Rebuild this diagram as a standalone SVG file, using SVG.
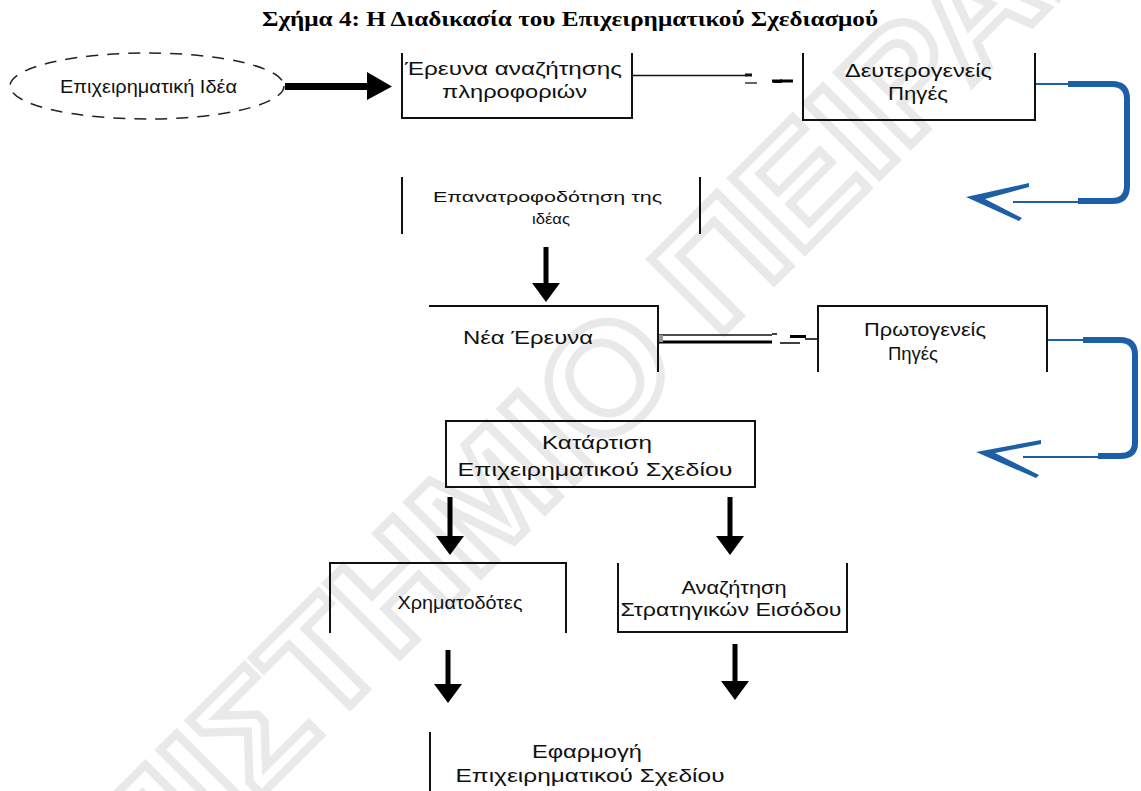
<svg xmlns="http://www.w3.org/2000/svg" width="1141" height="791" viewBox="0 0 1141 791">
<style>
.t{font-family:"Liberation Sans","Noto Sans",Arial,sans-serif;font-size:18px;fill:#111;text-anchor:middle}
.s{font-size:14px}
.box{fill:none;stroke:#111;stroke-width:2}
.ar{fill:#000}
.blue{fill:none;stroke:#1c5fa6;stroke-linecap:butt}
.bf{fill:#1c5fa6}
.wm{font-family:"Liberation Sans",Arial,sans-serif;font-weight:bold;font-size:150px;fill:none;stroke:#e9e9e9;stroke-width:8}
</style>
<rect width="1141" height="791" fill="#fff"/>
<g id="watermark">
<text class="wm" x="-173" y="1229" transform="rotate(-45 -173 1229)" textLength="1997" lengthAdjust="spacingAndGlyphs">ΠΑΝΕΠΙΣΤΗΜΙΟ ΠΕΙΡΑΙΩΣ</text>
</g>
<text x="570" y="26" font-family="'Liberation Serif','Times New Roman',serif" font-weight="bold" font-size="22" text-anchor="middle" textLength="616" lengthAdjust="spacingAndGlyphs" fill="#000">Σχήμα 4: Η Διαδικασία του Επιχειρηματικού Σχεδιασμού</text>
<g id="connectors">
<polygon class="ar" points="285,83 367,83 367,72 392,86.5 367,100 367,90 285,90"/>
<path d="M632,75.5 H747" stroke="#111" stroke-width="1.6"/>
<path d="M745,75 H752" stroke="#111" stroke-width="3"/>
<path d="M745,83 H757" stroke="#333" stroke-width="1.5"/>
<path d="M772,81 H793" stroke="#000" stroke-width="3"/>
<polygon points="772,83 782,79 782,83" fill="#000"/>
<path d="M658,335 H772" stroke="#111" stroke-width="1.6"/>
<path d="M658,342 H772" stroke="#000" stroke-width="3"/>
<rect x="658" y="335" width="5" height="7" fill="#999"/>
<path d="M772,334 H777 M780,343 H800 M805,339 H818" stroke="#000" stroke-width="1.6"/>
<path d="M790,336.5 H806" stroke="#000" stroke-width="3"/>
<path d="M1035,84 H1070 M1013,202 H1080" class="blue" stroke-width="2"/>
<path d="M1068,84 H1112 Q1127,84 1127,99 V186 Q1127,201 1112,201 H1078" class="blue" stroke-width="6"/>
<polygon class="bf" points="966,197 1029,183 1029,187 985,199 1022,218 1019,221"/>
<path d="M1047,340 H1085 M1023,457 H1100" class="blue" stroke-width="2"/>
<path d="M1083,340 H1120 Q1135,340 1135,355 V443 Q1135,456 1120,456 H1098" class="blue" stroke-width="6"/>
<polygon class="bf" points="976,452 1041,440 1041,444 995,453 1039,475 1036,478"/>
<polygon class="ar" points="543.5,247 548.5,247 548.5,283 560,283 546,302 532,283 543.5,283"/>
<polygon class="ar" points="447.5,497 452.5,497 452.5,536 464,536 450,555 436,536 447.5,536"/>
<polygon class="ar" points="727.5,497 732.5,497 732.5,536 744,536 730,555 716,536 727.5,536"/>
<polygon class="ar" points="445.5,650 450.5,650 450.5,684 462,684 448,703 434,684 445.5,684"/>
<polygon class="ar" points="732.5,644 737.5,644 737.5,681 749,681 735,700 721,681 732.5,681"/>
</g>
<g id="idea">
<ellipse cx="147" cy="86" rx="137" ry="33" fill="none" stroke="#222" stroke-width="1.5" stroke-dasharray="12 9"/>
<text class="t" x="148.5" y="93" font-size="16" textLength="177" lengthAdjust="spacingAndGlyphs">Επιχειρηματική Ιδέα</text>
</g>
<g id="research">
<path class="box" d="M402,53 V118 H632 V53"/>
<text class="t" x="513.5" y="75" textLength="217" lengthAdjust="spacingAndGlyphs">Έρευνα αναζήτησης</text>
<text class="t" x="514.5" y="98" textLength="145" lengthAdjust="spacingAndGlyphs">πληροφοριών</text>
</g>
<g id="secondary">
<path class="box" d="M803,53 V120 H1035 V53"/>
<text class="t" x="918.5" y="77" textLength="147" lengthAdjust="spacingAndGlyphs">Δευτερογενείς</text>
<text class="t" x="918" y="100" textLength="60" lengthAdjust="spacingAndGlyphs">Πηγές</text>
</g>
<g id="feedback">
<path class="box" d="M402,177 V234 M700,177 V234"/>
<text class="t s" x="547.5" y="202" textLength="229" lengthAdjust="spacingAndGlyphs">Επανατροφοδότηση της</text>
<text class="t s" x="551" y="224" textLength="38" lengthAdjust="spacingAndGlyphs">ιδέας</text>
</g>
<g id="new-research">
<path class="box" d="M429,306 H658 V372"/>
<text class="t" x="528" y="344" textLength="130" lengthAdjust="spacingAndGlyphs">Νέα Έρευνα</text>
</g>
<g id="primary">
<path class="box" d="M818,372 V306 H1047 V372"/>
<text class="t" x="925" y="336" textLength="122" lengthAdjust="spacingAndGlyphs">Πρωτογενείς</text>
<text class="t" x="913" y="360" textLength="50" lengthAdjust="spacingAndGlyphs">Πηγές</text>
</g>
<g id="plan">
<rect class="box" x="446" y="421" width="309" height="66"/>
<text class="t" x="597" y="449" textLength="110" lengthAdjust="spacingAndGlyphs">Κατάρτιση</text>
<text class="t" x="595" y="476" textLength="275" lengthAdjust="spacingAndGlyphs">Επιχειρηματικού Σχεδίου</text>
</g>
<g id="funders">
<path class="box" d="M330,633 V563 H566 V633"/>
<text class="t" x="460" y="609" textLength="125" lengthAdjust="spacingAndGlyphs">Χρηματοδότες</text>
</g>
<g id="entry">
<path class="box" d="M618,563 V632 H847 V563"/>
<text class="t" x="734" y="594" textLength="105" lengthAdjust="spacingAndGlyphs">Αναζήτηση</text>
<text class="t" x="731" y="616" textLength="221" lengthAdjust="spacingAndGlyphs">Στρατηγικών Εισόδου</text>
</g>
<g id="implementation">
<path class="box" d="M430,732 V791"/>
<text class="t" x="587" y="758" textLength="110" lengthAdjust="spacingAndGlyphs">Εφαρμογή</text>
<text class="t" x="590" y="782" textLength="269" lengthAdjust="spacingAndGlyphs">Επιχειρηματικού Σχεδίου</text>
</g>
</svg>
